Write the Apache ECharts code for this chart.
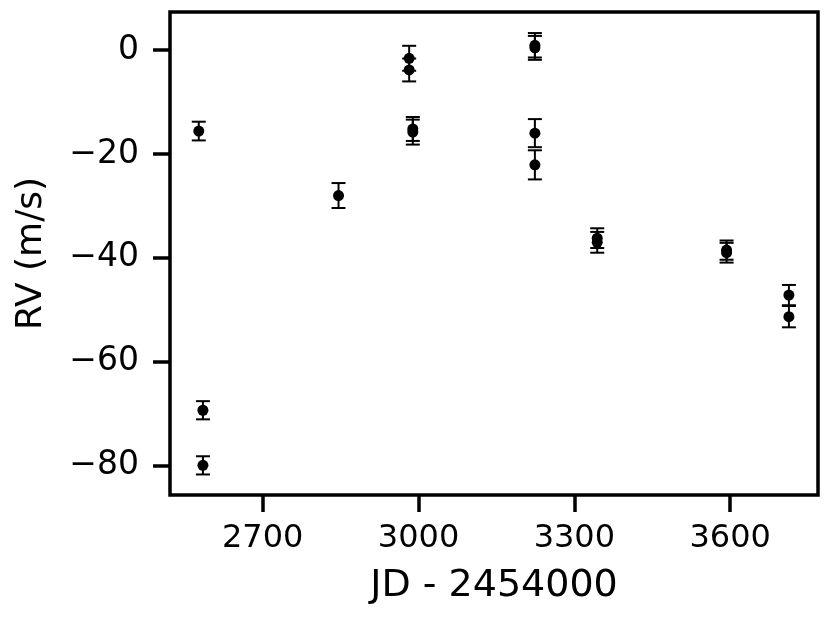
<!DOCTYPE html>
<html>
<head>
<meta charset="utf-8">
<script src="https://cdn.jsdelivr.net/npm/echarts@6/dist/echarts.min.js"></script>
<style>html,body{margin:0;padding:0;background:#fff}#c{width:831px;height:624px}</style>
</head>
<body>
<div id="c"></div>
<script>
const jd = [2577, 2585, 2585, 2846, 2982, 2982, 2989, 2989, 3224, 3224, 3224, 3224, 3344, 3344, 3593, 3593, 3713, 3713];
const rv = [-15.6, -69.3, -79.9, -28.0, -1.6, -3.85, -15.2, -15.8, 0.9, 0.4, -16.0, -22.1, -36.2, -37.0, -38.5, -39.0, -47.15, -51.3];
const rvErr = [1.8, 1.75, 1.75, 2.4, 2.4, 2.2, 2.3, 2.4, 2.35, 2.3, 2.7, 2.8, 1.9, 2.0, 1.85, 1.9, 1.95, 2.05];
const xTicks = [2700, 3000, 3300, 3600];
const yTicks = [0, -20, -40, -60, -80];
const xLabel = 'JD - 2454000';
const yLabel = 'RV (m/s)';

const font = 'DejaVu Sans';
const pts = jd.map((x, i) => [x, rv[i]]);
const errData = jd.map((x, i) => [x, rv[i], rvErr[i]]);

const chart = echarts.init(document.getElementById('c'), null, {renderer: 'canvas'});
chart.setOption({
  animation: false,
  backgroundColor: '#fff',
  grid: {left: 170, right: 13, top: 12, bottom: 129, show: true, borderColor: '#000', borderWidth: 3.5, backgroundColor: 'transparent'},
  xAxis: {
    type: 'value', min: 2521.6, max: 3769,
    name: xLabel, nameLocation: 'middle', nameGap: 72,
    nameTextStyle: {fontFamily: font, fontSize: 38, color: '#000'},
    axisLine: {show: false, onZero: false},
    splitLine: {show: false},
    axisTick: {show: true, inside: false, length: 17, lineStyle: {color: '#000', width: 3.5}, customValues: xTicks},
    axisLabel: {fontFamily: font, fontSize: 32, color: '#000', margin: 28, customValues: xTicks, formatter: v => String(v)}
  },
  yAxis: {
    type: 'value', min: -85.6, max: 7.3,
    name: yLabel, nameLocation: 'middle', nameGap: 120, nameRotate: 90,
    nameTextStyle: {fontFamily: font, fontSize: 36, color: '#000'},
    axisLine: {show: false, onZero: false},
    splitLine: {show: false},
    axisTick: {show: true, inside: false, length: 17, lineStyle: {color: '#000', width: 3.5}, customValues: yTicks},
    axisLabel: {fontFamily: font, fontSize: 33, color: '#000', margin: 31, customValues: yTicks, formatter: v => (v < 0 ? '\u2212' + Math.abs(v) : String(v))}
  },
  series: [
    {
      type: 'custom',
      data: errData,
      renderItem: function (params, api) {
        const x = api.value(0), y = api.value(1), e = api.value(2);
        const top = api.coord([x, y + e]);
        const bot = api.coord([x, y - e]);
        const cw = 7;
        const style = {stroke: '#000', lineWidth: 2};
        return {
          type: 'group',
          children: [
            {type: 'line', shape: {x1: top[0], y1: top[1], x2: bot[0], y2: bot[1]}, style: style},
            {type: 'line', shape: {x1: top[0] - cw, y1: top[1], x2: top[0] + cw, y2: top[1]}, style: style},
            {type: 'line', shape: {x1: bot[0] - cw, y1: bot[1], x2: bot[0] + cw, y2: bot[1]}, style: style}
          ]
        };
      },
      z: 2
    },
    {
      type: 'scatter',
      data: pts,
      symbol: 'circle',
      symbolSize: 11,
      itemStyle: {color: '#000', opacity: 1},
      z: 3
    }
  ]
});
</script>
</body>
</html>
